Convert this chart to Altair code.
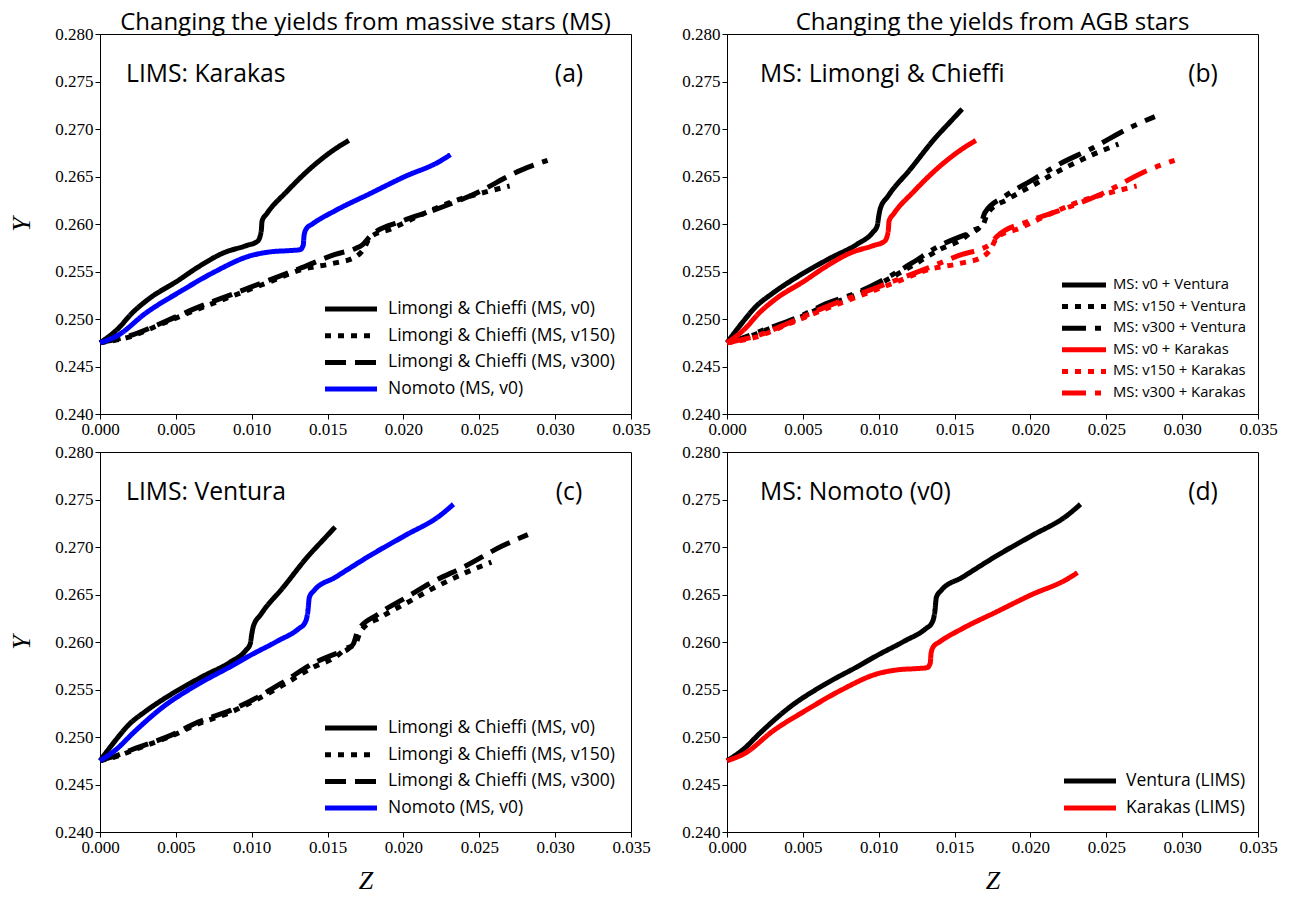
import altair as alt
import pandas as pd

# ---------------- data ----------------
# LIMS Karakas + Limongi & Chieffi MS
kar_lc_v0_z = [0, 0.0012, 0.0021, 0.0032, 0.0051, 0.0064, 0.0082, 0.0096, 0.0104, 0.01063, 0.01068, 0.0110, 0.0123, 0.0139, 0.0155, 0.0164]
kar_lc_v0_y = [0.2475, 0.2490, 0.2506, 0.2521, 0.2540, 0.2554, 0.2570, 0.2577, 0.2582, 0.2593, 0.2603, 0.2611, 0.2634, 0.2659, 0.2679, 0.2688]

kar_lc_v150_z = [0, 0.0019, 0.0041, 0.0064, 0.0087, 0.0110, 0.0133, 0.0155, 0.0168, 0.0174, 0.0178, 0.0192, 0.0212, 0.0235, 0.0255, 0.0270]
kar_lc_v150_y = [0.2475, 0.2481, 0.2495, 0.2510, 0.2524, 0.2538, 0.2552, 0.2559, 0.2565, 0.2574, 0.2586, 0.2595, 0.2610, 0.2625, 0.2634, 0.2640]

kar_lc_v300_z = [0, 0.0019, 0.0041, 0.0064, 0.0087, 0.0110, 0.0133, 0.0155, 0.0168, 0.0173, 0.0178, 0.0199, 0.0219, 0.0246, 0.0278, 0.0295]
kar_lc_v300_y = [0.2475, 0.2482, 0.2496, 0.2512, 0.2526, 0.2540, 0.2554, 0.2568, 0.2574, 0.2578, 0.2587, 0.2603, 0.2614, 0.2631, 0.2657, 0.2667]

# LIMS Ventura + Limongi & Chieffi MS
ven_lc_v0_z = [0, 0.0010, 0.0019, 0.0030, 0.0048, 0.0068, 0.0086, 0.0096, 0.0099, 0.0100, 0.0101, 0.0106, 0.0121, 0.0137, 0.0148, 0.0155]
ven_lc_v0_y = [0.2475, 0.2496, 0.2513, 0.2527, 0.2546, 0.2564, 0.2579, 0.2591, 0.2598, 0.2608, 0.2616, 0.2629, 0.2658, 0.2690, 0.2709, 0.2721]

ven_lc_v150_z = [0, 0.0010, 0.0025, 0.0047, 0.0065, 0.0086, 0.0104, 0.0122, 0.0140, 0.0156, 0.0163, 0.0168, 0.0172, 0.0185, 0.0202, 0.0219, 0.0241, 0.0258]
ven_lc_v150_y = [0.2475, 0.2479, 0.2488, 0.2501, 0.2514, 0.2526, 0.2540, 0.2556, 0.2573, 0.2585, 0.2594, 0.2597, 0.2612, 0.2626, 0.2641, 0.2656, 0.2673, 0.2684]

ven_lc_v300_z = [0, 0.0010, 0.0025, 0.0047, 0.0065, 0.0086, 0.0104, 0.0122, 0.0140, 0.0156, 0.0163, 0.0167, 0.0170, 0.0183, 0.0202, 0.0219, 0.0241, 0.0265, 0.0282]
ven_lc_v300_y = [0.2475, 0.2480, 0.2489, 0.2502, 0.2516, 0.2528, 0.2542, 0.2559, 0.2577, 0.2588, 0.2592, 0.2598, 0.2612, 0.2629, 0.2647, 0.2663, 0.2680, 0.2701, 0.2713]

# Nomoto MS (v0)
kar_nom_z = [0, 0.0012, 0.0030, 0.0053, 0.0076, 0.0098, 0.0114, 0.0125, 0.0132, 0.0134, 0.01345, 0.0136, 0.0140, 0.0155, 0.0178, 0.0201, 0.0224, 0.0231]
kar_nom_y = [0.2475, 0.2483, 0.2506, 0.2529, 0.2550, 0.2566, 0.2571, 0.2572, 0.2573, 0.2578, 0.2588, 0.2595, 0.2600, 0.2614, 0.2632, 0.2650, 0.2666, 0.2673]

ven_nom_z = [0, 0.0010, 0.0023, 0.0041, 0.0064, 0.0087, 0.0098, 0.0117, 0.0131, 0.0135, 0.0137, 0.0138, 0.0141, 0.0155, 0.0178, 0.0201, 0.0224, 0.0233]
ven_nom_y = [0.2475, 0.2486, 0.2506, 0.2531, 0.2555, 0.2575, 0.2585, 0.2601, 0.2614, 0.2620, 0.2632, 0.2647, 0.2654, 0.2668, 0.2691, 0.2712, 0.2733, 0.2745]

x_ticks = [0.000, 0.005, 0.010, 0.015, 0.020, 0.025, 0.030, 0.035]
y_ticks = [0.240, 0.245, 0.250, 0.255, 0.260, 0.265, 0.270, 0.275, 0.280]

col_titles = ["Changing the yields from massive stars (MS)", "Changing the yields from AGB stars"]

names_ac = ["Limongi & Chieffi (MS, v0)", "Limongi & Chieffi (MS, v150)",
            "Limongi & Chieffi (MS, v300)", "Nomoto (MS, v0)"]
names_b = ["MS: v0 + Ventura", "MS: v150 + Ventura", "MS: v300 + Ventura",
           "MS: v0 + Karakas", "MS: v150 + Karakas", "MS: v300 + Karakas"]
names_d = ["Ventura (LIMS)", "Karakas (LIMS)"]

SOLID = [1, 0]
DOT = [6, 7]
DASH = [21, 9]
DASHDOT = [24, 9, 6, 9]

W, H = 531, 380
SANS = "Open Sans"
SERIF = "Liberation Serif"


def make_df(series):
    rows = []
    for name, zs, ys in series:
        for i, (z, y) in enumerate(zip(zs, ys)):
            rows.append({"series": name, "Z": z, "Y": y, "i": i})
    return pd.DataFrame(rows)


def legend_layers(names, colors, dashes, leg):
    out = []
    for k, (n, c, d) in enumerate(zip(names, colors, dashes)):
        yk = leg["y0"] + k * leg["dy"]
        src = pd.DataFrame({"t": [n]})
        out.append(alt.Chart(src).mark_rule(strokeWidth=5, color=c, strokeDash=d, strokeCap="butt").encode(
            x=alt.value(leg["x0"]), x2=alt.value(leg["x1"]), y=alt.value(yk)))
        out.append(alt.Chart(src).mark_text(align="left", baseline="middle", font=SANS,
                                            fontSize=leg["fs"], color="black").encode(
            text="t:N", x=alt.value(leg["tx"]), y=alt.value(yk)))
    return out


def panel(series, names, colors, dashes, label, letter, lx, letx, leg, ytitle, xtitle, title=None):
    df = make_df(series)
    lines = alt.Chart(df).mark_line(strokeWidth=5, interpolate="monotone", strokeJoin="round").encode(
        x=alt.X("Z:Q", scale=alt.Scale(domain=[0, 0.035], nice=False, zero=False),
                axis=alt.Axis(values=x_ticks, format=".3f", title="Z" if xtitle else None)),
        y=alt.Y("Y:Q", scale=alt.Scale(domain=[0.240, 0.280], nice=False, zero=False),
                axis=alt.Axis(values=y_ticks, format=".3f", title="Y" if ytitle else None,
                              titlePadding=20)),
        color=alt.Color("series:N", scale=alt.Scale(domain=names, range=colors), legend=None),
        strokeDash=alt.StrokeDash("series:N", scale=alt.Scale(domain=names, range=dashes), legend=None),
        order="i:Q",
    )
    t1 = alt.Chart(pd.DataFrame({"t": [label]})).mark_text(
        align="left", baseline="middle", font=SANS, fontSize=24.7, color="black"
    ).encode(text="t:N", x=alt.value(lx), y=alt.value(41))
    t2 = alt.Chart(pd.DataFrame({"t": [letter]})).mark_text(
        align="center", baseline="middle", font=SANS, fontSize=24.7, color="black"
    ).encode(text="t:N", x=alt.value(letx), y=alt.value(41))
    ch = alt.layer(lines, t1, t2, *legend_layers(names, colors, dashes, leg)).properties(width=W, height=H)
    if title:
        ch = ch.properties(title=alt.TitleParams(title, frame="group", anchor="middle", font=SANS,
                                                 fontSize=24, fontWeight="normal", color="black", offset=-10))
    return ch


pa = panel(
    [(names_ac[0], kar_lc_v0_z, kar_lc_v0_y), (names_ac[1], kar_lc_v150_z, kar_lc_v150_y),
     (names_ac[2], kar_lc_v300_z, kar_lc_v300_y), (names_ac[3], kar_nom_z, kar_nom_y)],
    names_ac, ["black", "black", "black", "#0000ff"], [SOLID, DOT, DASH, SOLID],
    "LIMS: Karakas", "(a)", 26, 469,
    {"x0": 225, "x1": 277, "tx": 288, "y0": 275, "dy": 26.7, "fs": 17.5},
    True, False, col_titles[0])

pb = panel(
    [(names_b[0], ven_lc_v0_z, ven_lc_v0_y), (names_b[1], ven_lc_v150_z, ven_lc_v150_y),
     (names_b[2], ven_lc_v300_z, ven_lc_v300_y), (names_b[3], kar_lc_v0_z, kar_lc_v0_y),
     (names_b[4], kar_lc_v150_z, kar_lc_v150_y), (names_b[5], kar_lc_v300_z, kar_lc_v300_y)],
    names_b, ["black", "black", "black", "#ff0000", "#ff0000", "#ff0000"],
    [SOLID, DOT, DASHDOT, SOLID, DOT, DASHDOT],
    "MS: Limongi & Chieffi", "(b)", 33, 476,
    {"x0": 335, "x1": 379, "tx": 386, "y0": 251, "dy": 21.6, "fs": 14.8},
    False, False, col_titles[1])

pc = panel(
    [(names_ac[0], ven_lc_v0_z, ven_lc_v0_y), (names_ac[1], ven_lc_v150_z, ven_lc_v150_y),
     (names_ac[2], ven_lc_v300_z, ven_lc_v300_y), (names_ac[3], ven_nom_z, ven_nom_y)],
    names_ac, ["black", "black", "black", "#0000ff"], [SOLID, DOT, DASH, SOLID],
    "LIMS: Ventura", "(c)", 26, 469,
    {"x0": 225, "x1": 277, "tx": 288, "y0": 276, "dy": 26.7, "fs": 17.5},
    True, True)

pd_ = panel(
    [(names_d[0], ven_nom_z, ven_nom_y), (names_d[1], kar_nom_z, kar_nom_y)],
    names_d, ["black", "#ff0000"], [SOLID, SOLID],
    "MS: Nomoto (v0)", "(d)", 33, 476,
    {"x0": 337, "x1": 389, "tx": 399, "y0": 329, "dy": 27, "fs": 17.5},
    False, True)

top = alt.hconcat(pa, pb, spacing=30).resolve_scale(color="independent", strokeDash="independent")
bottom = alt.hconcat(pc, pd_, spacing=30).resolve_scale(color="independent", strokeDash="independent")

chart = alt.vconcat(top, bottom, spacing=4).resolve_scale(
    color="independent", strokeDash="independent"
).properties(
    padding={"left": 0, "top": 2, "right": 0, "bottom": 0}
).configure_view(stroke="black", strokeWidth=1).configure_axis(
    grid=False, domainColor="black", tickColor="black", tickSize=5, labelPadding=2,
    labelFlush=False, labelOverlap=False,
    labelFont=SERIF, labelFontSize=17, labelColor="black",
    titleFont=SERIF, titleFontStyle="italic", titleFontWeight="normal", titleFontSize=26,
    titleColor="black",
).configure_axisX(titlePadding=12)

chart.save("out.html", embed_options={"renderer": "svg", "actions": False})
